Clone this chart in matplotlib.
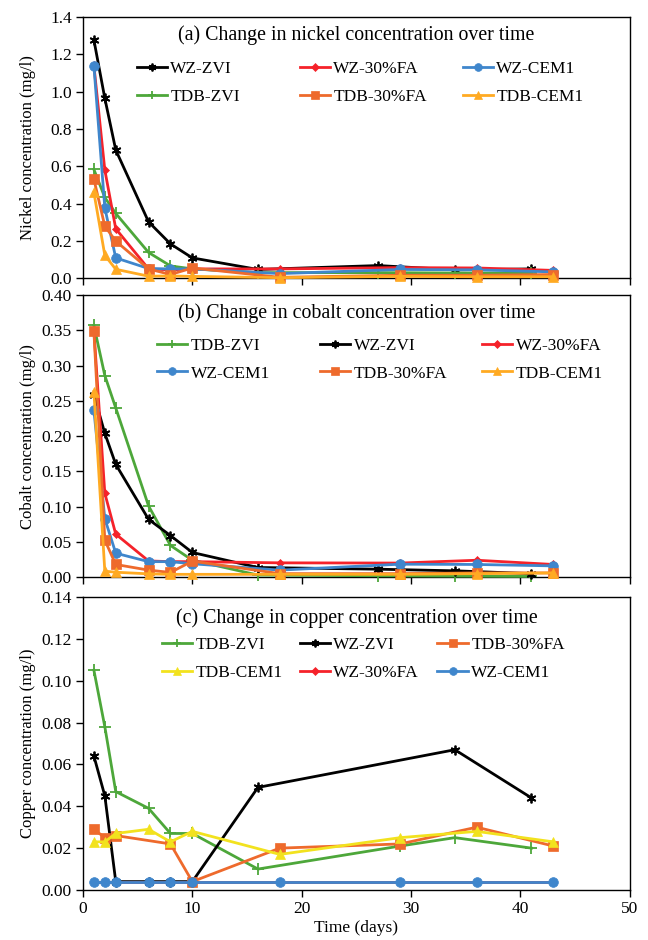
import matplotlib
matplotlib.use("Agg")
import matplotlib.pyplot as plt
from matplotlib.lines import Line2D
from matplotlib.legend import Legend

plt.rcParams["font.family"] = ["Liberation Serif", "DejaVu Serif"]

# -----------------------------
# Sampling days
# -----------------------------
days_main = [1, 2, 3, 6, 8, 10, 18, 29, 36, 43]
days_zvi = [1, 2, 3, 6, 8, 10, 16, 27, 34, 41]

# -----------------------------
# (a) Nickel (mg/l)
# -----------------------------
ni_wz_zvi = [1.277, 0.964, 0.687, 0.302, 0.184, 0.109, 0.047, 0.068, 0.045, 0.050]
ni_wz_fa = [1.14, 0.58, 0.265, 0.05, 0.045, 0.05, 0.05, 0.057, 0.055, 0.042]
ni_wz_cem = [1.139, 0.377, 0.109, 0.052, 0.05, 0.05, 0.025, 0.047, 0.045, 0.034]
ni_tdb_zvi = [0.583, 0.433, 0.347, 0.138, 0.066, 0.05, 0.03, 0.03, 0.028, 0.028]
ni_tdb_fa = [0.531, 0.279, 0.199, 0.05, 0.02, 0.055, 0.005, 0.016, 0.016, 0.02]
ni_tdb_cem = [0.46, 0.123, 0.048, 0.011, 0.012, 0.01, 0.003, 0.01, 0.008, 0.008]

# -----------------------------
# (b) Cobalt (mg/l)
# -----------------------------
co_tdb_zvi = [0.357, 0.286, 0.240, 0.101, 0.045, 0.024, 0.003, 0.002, 0.0015, 0.001]
co_wz_zvi = [0.259, 0.204, 0.160, 0.082, 0.059, 0.035, 0.0137, 0.0113, 0.009, 0.005]
co_wz_fa = [0.35, 0.119, 0.061, 0.023, 0.022, 0.022, 0.0203, 0.020, 0.024, 0.018]
co_wz_cem = [0.237, 0.083, 0.034, 0.022, 0.022, 0.019, 0.010, 0.0184, 0.018, 0.016]
co_tdb_fa = [0.349, 0.0525, 0.018, 0.010, 0.0067, 0.0227, 0.005, 0.005, 0.006, 0.006]
co_tdb_cem = [0.263, 0.0085, 0.007, 0.0047, 0.004, 0.004, 0.004, 0.004, 0.005, 0.006]

# -----------------------------
# (c) Copper (mg/l)
# -----------------------------
cu_days_tdb_zvi = [1, 2, 3, 6, 8, 10, 16, 29, 34, 41]
cu_tdb_zvi = [0.105, 0.078, 0.047, 0.039, 0.027, 0.027, 0.010, 0.021, 0.025, 0.020]
cu_days_wz_zvi = [1, 2, 3, 6, 8, 10, 16, 34, 41]
cu_wz_zvi = [0.064, 0.045, 0.004, 0.004, 0.004, 0.004, 0.049, 0.067, 0.044]
cu_days_tdb_fa = [1, 2, 3, 8, 10, 18, 29, 36, 43]
cu_tdb_fa = [0.029, 0.025, 0.026, 0.022, 0.004, 0.020, 0.022, 0.030, 0.021]
cu_tdb_cem = [0.023, 0.023, 0.027, 0.029, 0.023, 0.028, 0.017, 0.025, 0.028, 0.023]
cu_wz_fa = [0.004, 0.004, 0.004, 0.004, 0.004, 0.004, 0.004, 0.004, 0.004, 0.004]
cu_wz_cem = [0.004, 0.004, 0.004, 0.004, 0.004, 0.004, 0.004, 0.004, 0.004, 0.004]

# -----------------------------
# Series styles
# -----------------------------
styles = {
    "WZ-ZVI": dict(color="black", marker=(6, 2, 0), ms=7, mew=1.3),
    "WZ-30%FA": dict(color="#F5222A", marker="D", ms=4.5, mew=0.5),
    "WZ-CEM1": dict(color="#3F86CC", marker="o", ms=7, mew=0.5),
    "TDB-ZVI": dict(color="#4DA73A", marker="+", ms=8, mew=1.3),
    "TDB-30%FA": dict(color="#EE6A2C", marker="s", ms=7, mew=0.5),
    "TDB-CEM1": dict(color="#FFAA22", marker="^", ms=7, mew=0.5),
}


def draw(ax, name, x, y, color=None):
    st = dict(styles[name])
    if color:
        st["color"] = color
    ax.plot(x, y, color=st["color"], lw=2, marker=st["marker"], ms=st["ms"],
            mew=st["mew"], mec=st["color"], mfc=st["color"], label=name,
            clip_on=False, zorder=3)


def handle(name, color=None):
    st = dict(styles[name])
    if color:
        st["color"] = color
    return Line2D([], [], color=st["color"], lw=2, marker=st["marker"],
                  ms=st["ms"], mew=st["mew"], mec=st["color"], mfc=st["color"])


def legend_cols(ax, cols, xs, y, colors={}):
    for names, xpos in zip(cols, xs):
        hs = [handle(n, colors.get(n)) for n in names]
        lg = Legend(ax, hs, names, loc="upper left", bbox_to_anchor=(xpos, y),
                    frameon=False, fontsize=12.5, handlelength=1.75,
                    handletextpad=0.2, labelspacing=0.68, borderpad=0,
                    borderaxespad=0, markerscale=0.8)
        ax.add_artist(lg)


def style_axes(ax, ymax, ystep, fmt, ylabel, title, ty=0.935):
    ax.set_xlim(0, 50)
    ax.set_ylim(0, ymax)
    n = int(round(ymax / ystep))
    ax.set_yticks([i * ystep for i in range(n + 1)])
    ax.set_yticklabels([fmt.format(i * ystep) for i in range(n + 1)])
    ax.set_xticks([0, 10, 20, 30, 40, 50])
    ax.tick_params(direction="out", length=5, labelsize=12.5, width=1, pad=3)
    ax.set_ylabel(ylabel, fontsize=12)
    ax.yaxis.set_label_coords(-0.085, 0.5)
    for s in ax.spines.values():
        s.set_linewidth(1)
    ax.text(0.5, ty, title, transform=ax.transAxes, ha="center",
            va="center", fontsize=14.3)


fig = plt.figure(figsize=(6.48, 9.4), dpi=100)
left, width = 0.128, 0.844
ax_a = fig.add_axes([left, 0.704, width, 0.278])
ax_b = fig.add_axes([left, 0.386, width, 0.300])
ax_c = fig.add_axes([left, 0.0532, width, 0.3118])

# (a)
draw(ax_a, "WZ-ZVI", days_zvi, ni_wz_zvi)
draw(ax_a, "TDB-ZVI", days_zvi, ni_tdb_zvi)
draw(ax_a, "WZ-30%FA", days_main, ni_wz_fa)
draw(ax_a, "WZ-CEM1", days_main, ni_wz_cem)
draw(ax_a, "TDB-30%FA", days_main, ni_tdb_fa)
draw(ax_a, "TDB-CEM1", days_main, ni_tdb_cem)
style_axes(ax_a, 1.4, 0.2, "{:.1f}", "Nickel concentration (mg/l)",
           "(a) Change in nickel concentration over time", ty=0.93)
ax_a.set_xticklabels([])
legend_cols(ax_a, [["WZ-ZVI", "TDB-ZVI"], ["WZ-30%FA", "TDB-30%FA"],
                   ["WZ-CEM1", "TDB-CEM1"]],
            [0.098, 0.396, 0.694], 0.833)

# (b)
draw(ax_b, "TDB-ZVI", days_zvi, co_tdb_zvi)
draw(ax_b, "WZ-ZVI", days_zvi, co_wz_zvi)
draw(ax_b, "WZ-30%FA", days_main, co_wz_fa)
draw(ax_b, "WZ-CEM1", days_main, co_wz_cem)
draw(ax_b, "TDB-30%FA", days_main, co_tdb_fa)
draw(ax_b, "TDB-CEM1", days_main, co_tdb_cem)
style_axes(ax_b, 0.40, 0.05, "{:.2f}", "Cobalt concentration (mg/l)",
           "(b) Change in cobalt concentration over time")
ax_b.set_xticklabels([])
legend_cols(ax_b, [["TDB-ZVI", "WZ-CEM1"], ["WZ-ZVI", "TDB-30%FA"],
                   ["WZ-30%FA", "TDB-CEM1"]],
            [0.135, 0.433, 0.729], 0.85)

# (c)
cem_yellow = "#F2E21E"
draw(ax_c, "TDB-ZVI", cu_days_tdb_zvi, cu_tdb_zvi)
draw(ax_c, "WZ-ZVI", cu_days_wz_zvi, cu_wz_zvi)
draw(ax_c, "TDB-30%FA", cu_days_tdb_fa, cu_tdb_fa)
draw(ax_c, "TDB-CEM1", days_main, cu_tdb_cem, color=cem_yellow)
draw(ax_c, "WZ-30%FA", days_main, cu_wz_fa)
draw(ax_c, "WZ-CEM1", days_main, cu_wz_cem)
style_axes(ax_c, 0.14, 0.02, "{:.2f}", "Copper concentration (mg/l)",
           "(c) Change in copper concentration over time", ty=0.927)
ax_c.set_xlabel("Time (days)", fontsize=12.5, labelpad=2)
legend_cols(ax_c, [["TDB-ZVI", "TDB-CEM1"], ["WZ-ZVI", "WZ-30%FA"],
                   ["TDB-30%FA", "WZ-CEM1"]],
            [0.144, 0.396, 0.648], 0.865, colors={"TDB-CEM1": cem_yellow})

fig.savefig("out.png", dpi=100)
